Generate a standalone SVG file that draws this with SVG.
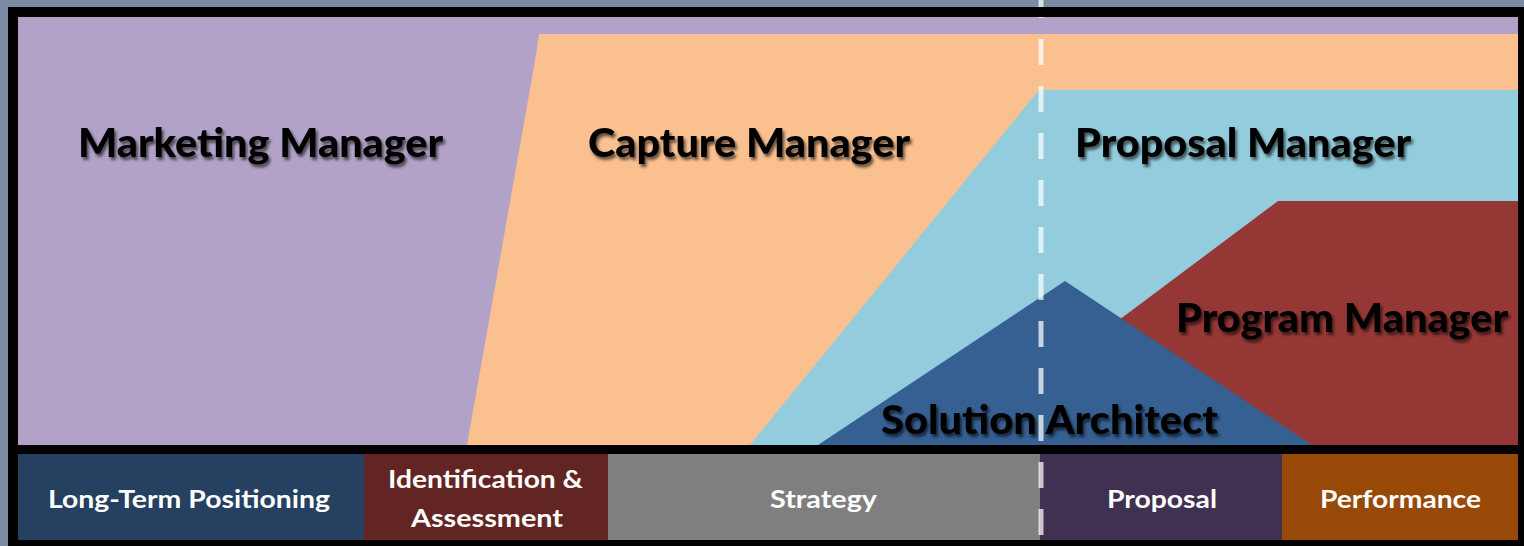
<svg xmlns="http://www.w3.org/2000/svg" width="1524" height="546" viewBox="0 0 1524 546">
  <defs>
    <filter id="shadow" x="-10%" y="-30%" width="120%" height="160%">
      <feDropShadow dx="2" dy="3" stdDeviation="1.6" flood-color="#000" flood-opacity="0.6"/>
    </filter>
  </defs>
  <style>
    .role { font-family: "Lato", "Open Sans", "Liberation Sans", sans-serif; font-weight: 900; font-size: 40px; fill: #000; filter: url(#shadow); }
    .phase { font-family: "Lato", "Open Sans", "Liberation Sans", sans-serif; font-weight: bold; font-size: 24px; fill: #fff; }
    .dash { stroke: #fff; stroke-opacity: 0.72; stroke-width: 5; stroke-dasharray: 26 21; fill: none; }
  </style>

  <!-- outer background and frame -->
  <rect x="0" y="0" width="1524" height="546" fill="#7a8aa2"/>
  <rect x="8" y="7" width="1516" height="539" fill="#000"/>

  <!-- role regions -->
  <g id="marketing-manager">
    <rect x="18" y="17" width="1500" height="428" fill="#b3a2c7"/>
  </g>
  <g id="capture-manager">
    <polygon points="539,34 1518,34 1518,445 467,445 536,55" fill="#fac090"/>
  </g>
  <g id="proposal-manager">
    <polygon points="1039,90 1518,90 1518,445 750,445" fill="#93cddd"/>
  </g>
  <g id="program-manager">
    <polygon points="1278,201 1518,201 1518,445 952,445" fill="#953735"/>
  </g>
  <g id="solution-architect">
    <polygon points="1065,281 1312,445 818,445" fill="#366092"/>
  </g>

  <!-- phase boxes -->
  <g id="phase-long-term">
    <rect x="18" y="454" width="346" height="86" fill="#254061"/>
  </g>
  <g id="phase-identification">
    <rect x="364" y="454" width="244" height="86" fill="#632523"/>
  </g>
  <g id="phase-strategy">
    <rect x="608" y="454" width="432" height="86" fill="#7f7f7f"/>
  </g>
  <g id="phase-proposal">
    <rect x="1040" y="454" width="242" height="86" fill="#403152"/>
  </g>
  <g id="phase-performance">
    <rect x="1282" y="454" width="236" height="86" fill="#984807"/>
  </g>

  <!-- role labels -->
  <g id="labels-roles">
    <text class="role" x="78" y="157" textLength="365" lengthAdjust="spacingAndGlyphs">Marketing Manager</text>
    <text class="role" x="588" y="157" textLength="322" lengthAdjust="spacingAndGlyphs">Capture Manager</text>
    <text class="role" x="1075" y="157" textLength="336" lengthAdjust="spacingAndGlyphs">Proposal Manager</text>
    <text class="role" x="1176" y="332" textLength="332" lengthAdjust="spacingAndGlyphs">Program Manager</text>
    <text class="role" x="881" y="434" textLength="337" lengthAdjust="spacingAndGlyphs">Solution Architect</text>
  </g>

  <!-- dashed divider -->
  <g id="connectors">
    <line class="dash" x1="1041" y1="-8" x2="1041" y2="546"/>
  </g>
  <!-- top frame edge over divider -->
  <rect x="8" y="7" width="1516" height="10" fill="#000"/>

  <!-- phase labels -->
  <g id="labels-phases">
    <text class="phase" x="48" y="508" textLength="282" lengthAdjust="spacingAndGlyphs">Long-Term Positioning</text>
    <text class="phase" x="388" y="488" textLength="195" lengthAdjust="spacingAndGlyphs">Identification &amp;</text>
    <text class="phase" x="411" y="527" textLength="152" lengthAdjust="spacingAndGlyphs">Assessment</text>
    <text class="phase" x="770" y="508" textLength="107" lengthAdjust="spacingAndGlyphs">Strategy</text>
    <text class="phase" x="1107" y="508" textLength="110" lengthAdjust="spacingAndGlyphs">Proposal</text>
    <text class="phase" x="1320" y="508" textLength="161" lengthAdjust="spacingAndGlyphs">Performance</text>
  </g>
</svg>
